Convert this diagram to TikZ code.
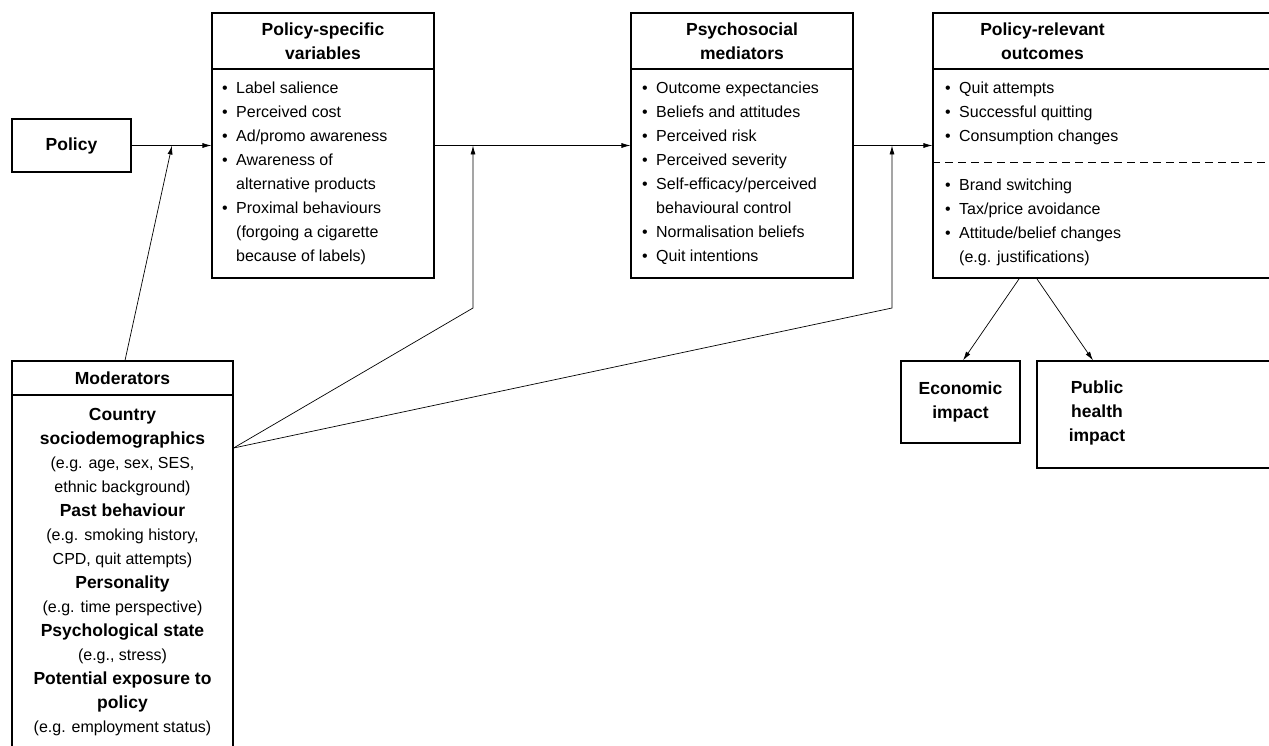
\documentclass[tikz,border=0pt]{standalone}
\usepackage{fontspec}
\setmainfont{Liberation Sans}
\usetikzlibrary{arrows.meta}
\usetikzlibrary{positioning}

\newcommand{\bul}{\makebox[14pt][l]{\textbullet}}
\newcommand{\ind}{\hspace*{14pt}}
\newcommand{\hb}[1]{{\fontsize{17.5}{24}\selectfont\bfseries #1}}

\begin{document}
\begin{tikzpicture}[x=1pt,y=-1pt,
  box/.style={draw, line width=1.1pt, inner sep=0pt},
  rule/.style={line width=1.1pt},
  head/.style={font=\fontsize{17.5}{24}\selectfont\bfseries, align=center, inner sep=0pt},
  items/.style={align=left, anchor=north west, inner sep=0pt},
  link/.style={line width=0.7pt, -{Latex[length=9pt,width=5pt]}}]

\fontsize{16}{24}\selectfont

\useasboundingbox (0,0) rectangle (1269,746);
\clip (0,0) rectangle (1269,746);

% boxes
\node[box, head, minimum width=119, minimum height=53] (policy) at (71.5,145.5) {Policy};
\node[box, minimum width=222, minimum height=265] (psv) at (323,145.5) {};
\node[box, minimum width=222, minimum height=265] (psm) at (742,145.5) {};
\node[box, minimum width=367, minimum height=265] (out) at (1116.5,145.5) {};
\node[box, head, minimum width=119, minimum height=82] (econ) at (960.5,402) {Economic\\impact};
\node[box, minimum width=263, minimum height=107] (health) at (1168.5,414.5) {};
\node[box, minimum width=221, minimum height=439] (mod) at (122.5,580.5) {};

\draw[rule] (psv.west |- 0,69) -- (psv.east |- 0,69);
\draw[rule] (psm.west |- 0,69) -- (psm.east |- 0,69);
\draw[rule] (out.west |- 0,69) -- (out.east |- 0,69);
\draw[rule] (mod.west |- 0,395) -- (mod.east |- 0,395);
\draw[line width=0.8pt, dash pattern=on 8pt off 5pt] (out.west |- 0,162) -- (out.east |- 0,162);

% headers
\node[head, anchor=north] (psvhead) at (323,23) {Policy-specific\\variables};
\node[head, anchor=north] (psmhead) at (742,23) {Psychosocial\\mediators};
\node[head, anchor=north] (outhead) at (1042.5,23) {Policy-relevant\\outcomes};
\node[head] (modhead) at (122.5,378) {Moderators};
\node[head] (healthtext) at (1097,413) {Public\\health\\impact};

% contents
\node[items] (psvlist) at (222,82) {\bul Label salience\\ \bul Perceived cost\\ \bul Ad/promo awareness\\
  \bul Awareness of\\ \ind alternative products\\ \bul Proximal behaviours\\
  \ind (forgoing a cigarette\\ \ind because of labels)};
\node[items] (psmlist) at (642,82) {\bul Outcome expectancies\\ \bul Beliefs and attitudes\\ \bul Perceived risk\\
  \bul Perceived severity\\ \bul Self-efficacy/perceived\\ \ind behavioural control\\
  \bul Normalisation beliefs\\ \bul Quit intentions};
\node[items] (outlist) at (945,82) {\bul Quit attempts\\ \bul Successful quitting\\ \bul Consumption changes};
\node[items] (outlist2) at (945,179) {\bul Brand switching\\ \bul Tax/price avoidance\\
  \bul Attitude/belief changes\\ \ind (e.g. justifications)};
\node[align=center, anchor=north, inner sep=0pt] (modlist) at (122.5,408) {\hb{Country}\\
  \hb{sociodemographics}\\ (e.g. age, sex, SES,\\ ethnic background)\\
  \hb{Past behaviour}\\ (e.g. smoking history,\\ CPD, quit attempts)\\
  \hb{Personality}\\ (e.g. time perspective)\\ \hb{Psychological state}\\
  (e.g., stress)\\ \hb{Potential exposure to}\\ \hb{policy}\\ (e.g. employment status)};

% connectors
\coordinate (j1) at (172,145.5);
\coordinate (j2) at (473,145.5);
\coordinate (j3) at (892,145.5);
\coordinate (k2) at (473,308);
\coordinate (k3) at (892,308);
\coordinate (fan) at (mod.east |- 0,448);
\coordinate (o1) at (1019,279);
\coordinate (o2) at (1037,279);

\draw[link] (policy.east) -- (psv.west);
\draw[link] (psv.east) -- (psm.west);
\draw[link] (psm.east) -- (out.west);
\draw[link] ([xshift=2.5pt]mod.north) -- (j1);
\draw[link] (fan) -- (k2) -- (j2);
\draw[link] (fan) -- (k3) -- (j3);
\draw[link] (o1) -- ([xshift=2.5pt]econ.north);
\draw[link] (o2) -- ([xshift=-4pt]healthtext |- health.north);

\end{tikzpicture}
\end{document}
